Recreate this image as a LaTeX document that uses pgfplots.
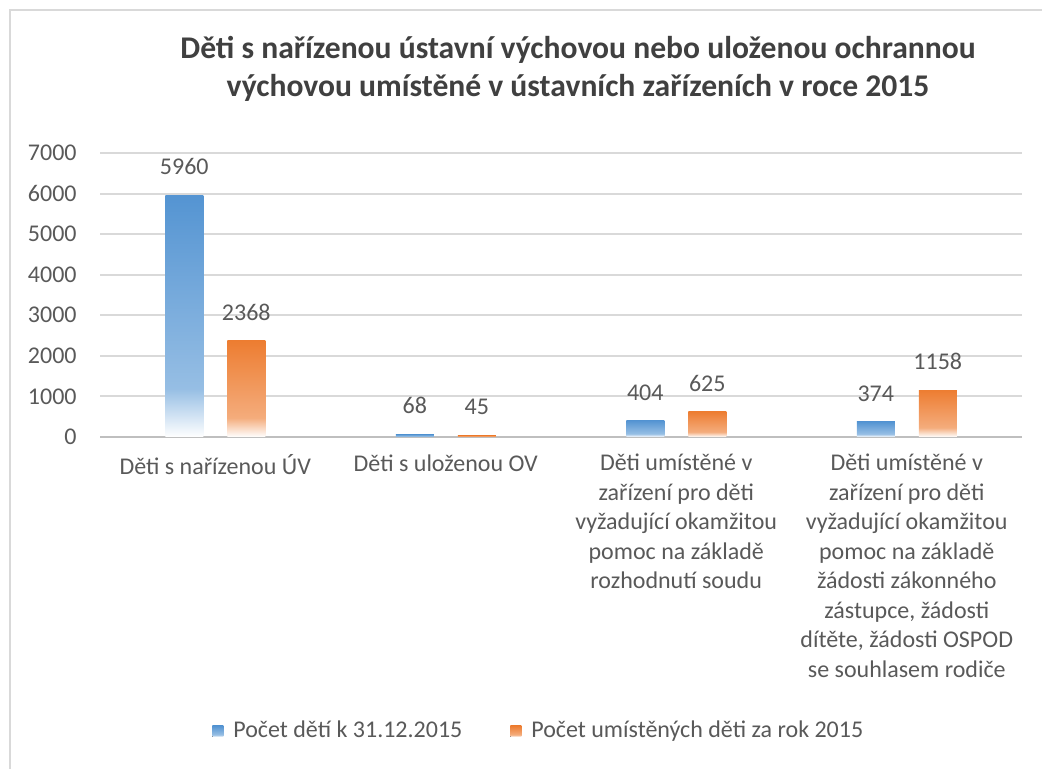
\documentclass[border=0pt]{standalone}
\usepackage{pgfplots}
\pgfplotsset{compat=1.18}
\usepackage{fontspec}
\setmainfont{Carlito}
\definecolor{bluetop}{RGB}{84,148,210}
\definecolor{bluemid}{RGB}{150,190,228}
\definecolor{orangetop}{RGB}{237,125,49}
\definecolor{orangemid}{RGB}{244,172,124}
\definecolor{textgray}{RGB}{89,89,89}
\definecolor{titlegray}{RGB}{64,64,64}
\definecolor{gridgray}{RGB}{217,217,217}
\pgfdeclareverticalshading{blueshade}{100bp}{color(0bp)=(white); color(25bp)=(white); color(35bp)=(bluemid); color(75bp)=(bluetop); color(100bp)=(bluetop)}
\pgfdeclareverticalshading{orangeshade}{100bp}{color(0bp)=(white); color(25bp)=(white); color(35bp)=(orangemid); color(75bp)=(orangetop); color(100bp)=(orangetop)}
\begin{document}
\begin{tikzpicture}[x=0.5pt,y=0.5pt]
\path[use as bounding box] (0,0) rectangle (1042,769);
\draw[gridgray, line width=1pt] (10,0) -- (10,759) -- (1042,759);
\node[align=center, font=\bfseries\fontsize{15.8}{19}\selectfont, text=titlegray] at (578,700)
 {Děti s nařízenou ústavní výchovou nebo uloženou ochrannou\\výchovou umístěné v ústavních zařízeních v roce 2015};
\begin{axis}[
  at={(50pt,166pt)}, anchor=south west,
  scale only axis, width=461pt, height=142pt,
  xmin=-0.5, xmax=3.5, ymin=0, ymax=7000,
  ybar, bar width=19pt,
  axis lines*=left,
  y axis line style={draw=none},
  x axis line style={draw=gray!50, line width=1pt, -},
  major tick length=0pt,
  ymajorgrids, grid style={draw=gridgray, line width=1pt},
  ytick={0,1000,...,7000},
  scaled y ticks=false,
  /pgf/number format/1000 sep={},
  /pgf/number format/assume math mode=true,
  yticklabel style={font=\fontsize{12}{14.75}\selectfont, text=textgray, inner sep=0pt, xshift=-11.5pt},
  xtick={0,1,2,3},
  xticklabels={{Děti s nařízenou ÚV},{Děti s uloženou OV},{Děti umístěné v\\zařízení pro děti\\vyžadující okamžitou\\pomoc na základě\\rozhodnutí soudu},{Děti umístěné v\\zařízení pro děti\\vyžadující okamžitou\\pomoc na základě\\žádosti zákonného\\zástupce, žádosti\\dítěte, žádosti OSPOD\\se souhlasem rodiče}},
  xticklabel style={align=center, font=\fontsize{12}{14.75}\selectfont, text=textgray, inner sep=0pt, anchor=north, yshift=-8.5pt},
  nodes near coords,
  nodes near coords style={font=\fontsize{12}{14.75}\selectfont, text=textgray, inner sep=0pt, anchor=south, yshift=10pt},
  legend columns=2,
  legend style={draw=none, at={(0.477,-1.035)}, anchor=center, font=\fontsize{12}{14.75}\selectfont, text=textgray,
    /tikz/every odd column/.append style={column sep=3pt},
    /tikz/every even column/.append style={column sep=22pt}},
  legend image code/.code={\fill[#1] (0pt,-3pt) rectangle (5.5pt,2.5pt);},
  bluebar/.style={draw=none, shade, shading=blueshade, bar shift=-15.5pt},
  orangebar/.style={draw=none, shade, shading=orangeshade, bar shift=15.5pt},
]
\addplot[bluebar] coordinates {(0,5960)};
\addlegendentry{Počet dětí k 31.12.2015}
\addplot[orangebar] coordinates {(0,2368)};
\addlegendentry{Počet umístěných děti za rok 2015}
\addplot[bluebar, forget plot] coordinates {(1,68)};
\addplot[bluebar, forget plot] coordinates {(2,404)};
\addplot[bluebar, forget plot] coordinates {(3,374)};
\addplot[orangebar, forget plot] coordinates {(1,45)};
\addplot[orangebar, forget plot] coordinates {(2,625)};
\addplot[orangebar, forget plot] coordinates {(3,1158)};
\end{axis}
\end{tikzpicture}
\end{document}
